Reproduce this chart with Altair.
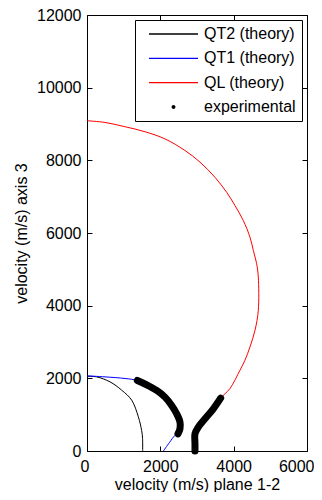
import altair as alt
import pandas as pd

SERIES = ["QT2 (theory)", "QT1 (theory)", "QL (theory)", "experimental"]
COLORS = ["#000000", "#0000ff", "#ff0000", "#000000"]

# theory curves (velocity in plane 1-2, velocity along axis 3)
qt2_x = [0, 264, 627, 945, 1218, 1400, 1491, 1515, 1518]
qt2_y = [2055, 2040, 1903, 1675, 1400, 942, 560, 350, 0]

qt1_x = [0, 491, 1036, 1373, 1627, 1900, 2127, 2309, 2445, 2536, 2536, 2491, 2400, 2245, 2082]
qt1_y = [2068, 2040, 1996, 1941, 1822, 1666, 1483, 1254, 1025, 796, 613, 476, 430, 228, 0]

ql_x = [0, 491, 1036, 1582, 2127, 2673, 3082, 3491, 3809, 4036, 4263, 4445, 4536, 4627,
        4672, 4672, 4582, 4445, 4309, 4172, 3900, 3645, 3445, 3218, 3036, 2945, 2945, 2945]
ql_y = [9090, 9043, 8925, 8787, 8590, 8270, 7950, 7532, 7120, 6755, 6343, 5885, 5520, 5154,
        4787, 3872, 3323, 2864, 2499, 2224, 1722, 1455, 1162, 888, 659, 476, 201, 0]

# experimental data (two branches)
exp1_x = [1373, 1627, 1900, 2127, 2309, 2445, 2536, 2536, 2480]
exp1_y = [1941, 1822, 1666, 1483, 1254, 1025, 796, 613, 470]
exp2_x = [3645, 3445, 3218, 3036, 2945, 2945, 2945]
exp2_y = [1455, 1162, 888, 659, 476, 201, 0]

X_TICKS = [0, 2000, 4000, 6000]
Y_TICKS = [0, 2000, 4000, 6000, 8000, 10000, 12000]

FONT = "Liberation Sans"

curves = [(qt2_x, qt2_y), (qt1_x, qt1_y), (ql_x, ql_y)]
theory = pd.DataFrame({
    "x": sum([c[0] for c in curves], []),
    "y": sum([c[1] for c in curves], []),
    "series": sum([[SERIES[k]] * len(c[0]) for k, c in enumerate(curves)], []),
    "i": sum([list(range(len(c[0]))) for c in curves], []),
})
exp = pd.DataFrame({
    "x": exp1_x + exp2_x,
    "y": exp1_y + exp2_y,
    "branch": ["a"] * len(exp1_x) + ["b"] * len(exp2_x),
    "i": list(range(len(exp1_x))) + list(range(len(exp2_x))),
})

xscale = alt.Scale(domain=[0, 6000], nice=False, zero=False)
yscale = alt.Scale(domain=[0, 12000], nice=False, zero=False)
cscale = alt.Scale(domain=SERIES, range=COLORS)


def ring(cx, r):
    return f"M{cx - r},0A{r},{r} 0 1,0 {cx + r},0A{r},{r} 0 1,0 {cx - r},0Z"


LINE_PATH = "M0,0H7"
DOT_PATH = ring(3.5, 0.09) + ring(3.5, 0.19)
sscale = alt.Scale(domain=SERIES, range=[LINE_PATH, LINE_PATH, LINE_PATH, DOT_PATH])

axis_common = dict(domain=False, grid=False, tickSize=5, offset=-5, tickColor="black",
                   labelFont=FONT, labelFontSize=16, labelColor="black",
                   titleFont=FONT, titleFontSize=16, titleFontWeight="normal", titleColor="black",
                   format="d")

x_axis = alt.Axis(values=X_TICKS, orient="bottom", labelPadding=7, titlePadding=2,
                  labelFlush=True, labelFlushOffset=7,
                  title="velocity (m/s) plane 1-2", **axis_common)
y_axis = alt.Axis(values=Y_TICKS, orient="left", labelPadding=6, titlePadding=7.5,
                  labelFlush=False,
                  title="velocity (m/s) axis 3", **axis_common)
top_axis = alt.Axis(values=X_TICKS, orient="top", labels=False, title=None, domain=False,
                    grid=False, tickSize=5, offset=-5, tickColor="black")
right_axis = alt.Axis(values=Y_TICKS, orient="right", labels=False, title=None, domain=False,
                      grid=False, tickSize=5, offset=-5, tickColor="black")

legend = alt.Legend(title=None, orient="top-right", offset=5, padding=6,
                    strokeColor="black", fillColor="white", rowPadding=8.3,
                    symbolSize=196, symbolStrokeWidth=1.3, symbolOpacity=1, labelOffset=47,
                    labelFont=FONT, labelFontSize=16, labelColor="black")

layers = []
for k in range(3):
    layers.append(
        alt.Chart(theory).transform_filter(alt.datum.series == SERIES[k])
        .mark_line(strokeWidth=1, color=COLORS[k], interpolate="catmull-rom")
        .encode(
            x=alt.X("x:Q", scale=xscale, axis=x_axis if k == 0 else None),
            y=alt.Y("y:Q", scale=yscale, axis=y_axis if k == 0 else None),
            order=alt.Order("i:Q"),
        )
    )

expc = alt.Chart(exp).mark_line(color="black", strokeWidth=7, strokeCap="round",
                                strokeJoin="round", interpolate="catmull-rom").encode(
    x=alt.X("x:Q", scale=xscale, axis=top_axis),
    y=alt.Y("y:Q", scale=yscale, axis=right_axis),
    detail="branch:N",
    order=alt.Order("i:Q"),
)
layers.append(expc)

leg = alt.Chart(theory).mark_point(filled=False, strokeWidth=1.3, opacity=0).encode(
    x=alt.X("x:Q", scale=xscale, axis=None),
    y=alt.Y("y:Q", scale=yscale, axis=None),
    color=alt.Color("series:N", scale=cscale, legend=legend),
    shape=alt.Shape("series:N", scale=sscale, legend=legend),
)
layers.append(leg)

chart = alt.layer(*layers).resolve_axis(
    x="independent", y="independent"
).properties(
    width=220, height=436,
    autosize=alt.AutoSizeParams(type="none"),
    padding={"left": 79, "top": 7, "right": 7, "bottom": 41},
).configure_view(stroke="black", strokeWidth=1)

chart.save("out.html", embed_options={"renderer": "svg", "actions": False})
